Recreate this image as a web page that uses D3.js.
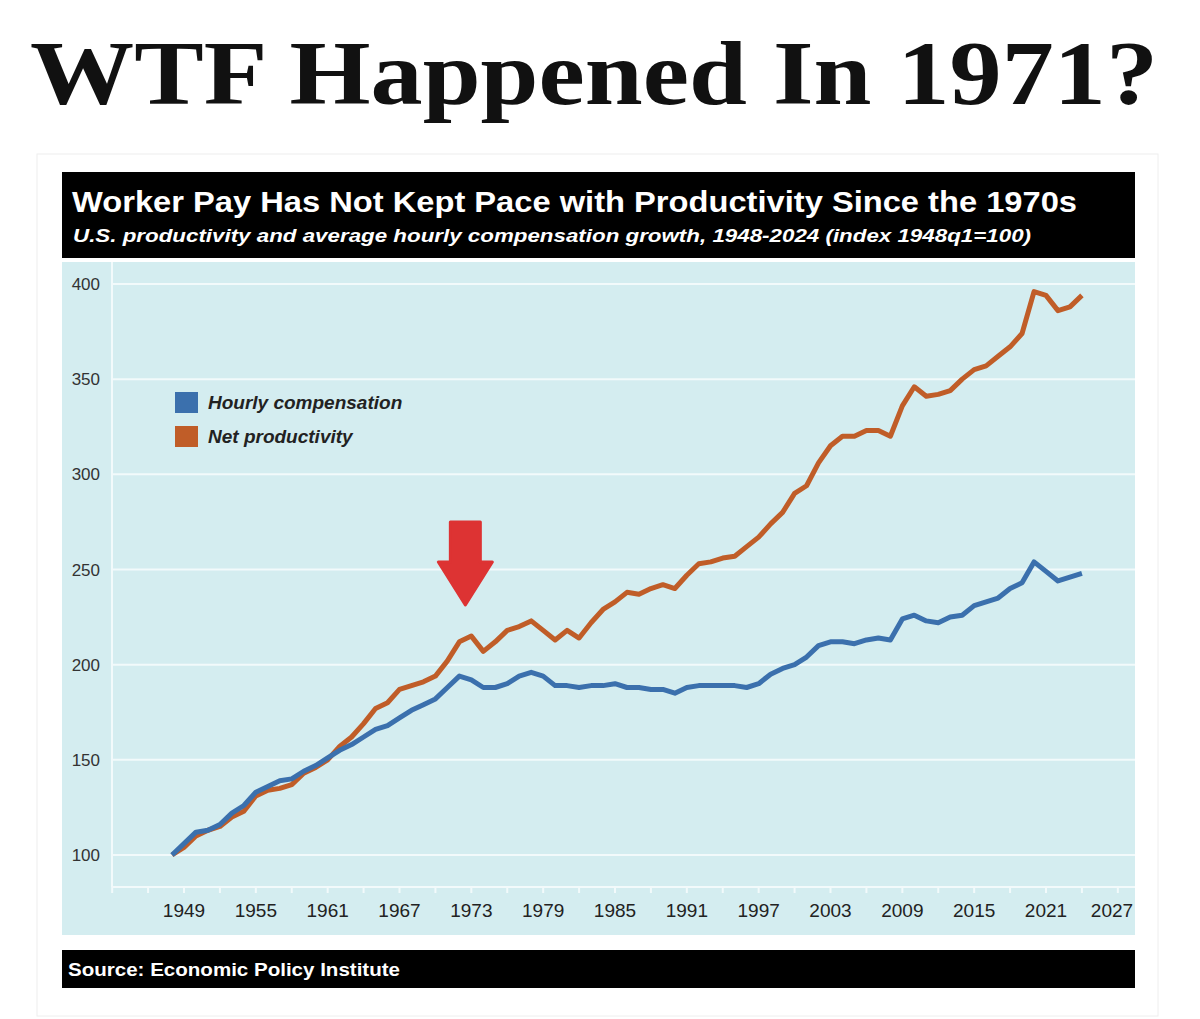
<!DOCTYPE html>
<html><head><meta charset="utf-8">
<script src="https://cdn.jsdelivr.net/npm/d3@7"></script>
<style>body{margin:0;background:#fff}</style>
</head><body>
<svg id="viz" width="1200" height="1019"></svg>
<script>
const years = [1948,1949,1950,1951,1952,1953,1954,1955,1956,1957,1958,1959,1960,1961,1962,1963,1964,1965,1966,1967,1968,1969,1970,1971,1972,1973,1974,1975,1976,1977,1978,1979,1980,1981,1982,1983,1984,1985,1986,1987,1988,1989,1990,1991,1992,1993,1994,1995,1996,1997,1998,1999,2000,2001,2002,2003,2004,2005,2006,2007,2008,2009,2010,2011,2012,2013,2014,2015,2016,2017,2018,2019,2020,2021,2022,2023,2024];
const productivity = [100,104,110,113,115,120,123,131,134,135,137,143,146,150,157,162,169,177,180,187,189,191,194,202,212,215,207,212,218,220,223,218,213,218,214,222,229,233,238,237,240,242,240,247,253,254,256,257,262,267,274,280,290,294,306,315,320,320,323,323,320,336,346,341,342,344,350,355,357,362,367,374,396,394,386,388,394];
const compensation = [100,106,112,113,116,122,126,133,136,139,140,144,147,151,155,158,162,166,168,172,176,179,182,188,194,192,188,188,190,194,196,194,189,189,188,189,189,190,188,188,187,187,185,188,189,189,189,189,188,190,195,198,200,204,210,212,212,211,213,214,213,224,226,223,222,225,226,231,233,235,240,243,254,249,244,246,248];
const yTicks = [100,150,200,250,300,350,400];
const xLabels = [1949,1955,1961,1967,1973,1979,1985,1991,1997,2003,2009,2015,2021,2027];
const series = [
  {name: "Hourly compensation", values: compensation, color: "#3b70ad"},
  {name: "Net productivity", values: productivity, color: "#c05d28"}
];

(function() {
const svg = d3.select("#viz");
const left = 112, right = 1135, plotTop = 262, axisY = 887;

// faint frame
svg.append("rect").attr("x", 37).attr("y", 154).attr("width", 1121).attr("height", 862)
  .attr("fill", "#fff").attr("stroke", "#eee");

svg.append("text").attr("x", 594).attr("y", 104).attr("text-anchor", "middle")
  .attr("font-family", "Liberation Serif").attr("font-weight", "bold").attr("font-size", 90)
  .attr("textLength", 1128).attr("lengthAdjust", "spacingAndGlyphs")
  .attr("fill", "#111").text("WTF Happened In 1971?");

// header
svg.append("rect").attr("x", 62).attr("y", 172).attr("width", 1073).attr("height", 86).attr("fill", "#000");
svg.append("text").attr("x", 72).attr("y", 212).attr("fill", "#fff")
  .attr("font-family", "Liberation Sans").attr("font-weight", "bold").attr("font-size", 30)
  .attr("textLength", 1005).attr("lengthAdjust", "spacingAndGlyphs")
  .text("Worker Pay Has Not Kept Pace with Productivity Since the 1970s");
svg.append("text").attr("x", 73).attr("y", 242).attr("fill", "#fff")
  .attr("font-family", "Liberation Sans").attr("font-weight", "bold").attr("font-style", "italic").attr("font-size", 19)
  .attr("textLength", 958).attr("lengthAdjust", "spacingAndGlyphs")
  .text("U.S. productivity and average hourly compensation growth, 1948-2024 (index 1948q1=100)");

// plot panel
svg.append("rect").attr("x", 62).attr("y", plotTop).attr("width", right - 62).attr("height", 673).attr("fill", "#d4edf0");

const x = d3.scaleLinear().domain([1949, 2021]).range([184, 1046]);
const y = d3.scaleLinear().domain([100, 400]).range([855, 284]);

svg.append("g").selectAll("line").data(yTicks).join("line")
  .attr("x1", left).attr("x2", right).attr("y1", d => y(d)).attr("y2", d => y(d))
  .attr("stroke", "#f2fafb").attr("stroke-width", 2);
svg.append("g").selectAll("text").data(yTicks).join("text")
  .attr("x", 100).attr("y", d => y(d) + 6).attr("text-anchor", "end")
  .attr("font-family", "Liberation Sans").attr("font-size", 17).attr("fill", "#333").text(d => d);

svg.append("line").attr("x1", left).attr("x2", left).attr("y1", plotTop).attr("y2", axisY)
  .attr("stroke", "#f2fafb").attr("stroke-width", 2);
svg.append("line").attr("x1", left).attr("x2", right).attr("y1", axisY).attr("y2", axisY)
  .attr("stroke", "#f2fafb").attr("stroke-width", 2);
const tickYears = d3.range(1943, 2030, 3);
svg.append("g").selectAll("line").data(tickYears).join("line")
  .attr("x1", d => x(d)).attr("x2", d => x(d)).attr("y1", axisY).attr("y2", axisY + 6)
  .attr("stroke", "#f2fafb").attr("stroke-width", 2);
svg.append("g").selectAll("text").data(xLabels).join("text")
  .attr("x", d => d === 2027 ? 1112 : x(d)).attr("y", 917).attr("text-anchor", "middle")
  .attr("font-family", "Liberation Sans Narrow, Liberation Sans").attr("font-size", 19).attr("fill", "#222")
  .text(d => d);

const line = d3.line().x((d, i) => x(years[i])).y(d => y(d));
series.slice().reverse().forEach(s => {
  svg.append("path").datum(s.values).attr("d", line).attr("fill", "none")
    .attr("stroke", s.color).attr("stroke-width", 5).attr("stroke-linejoin", "round");
});

// legend
series.forEach((s, i) => {
  svg.append("rect").attr("x", 175).attr("y", 392 + i * 34).attr("width", 23).attr("height", 21).attr("fill", s.color);
  svg.append("text").attr("x", 208).attr("y", 409 + i * 34)
    .attr("font-family", "Liberation Sans").attr("font-style", "italic").attr("font-weight", "bold")
    .attr("font-size", 19).attr("fill", "#222")
    .text(s.name);
});

// arrow at 1971
const ax = x(1972.5);
svg.append("path")
  .attr("d", `M${ax-15},522 L${ax+15},522 L${ax+15},562 L${ax+27},562 L${ax},605 L${ax-27},562 L${ax-15},562 Z`)
  .attr("fill", "#dd3333").attr("stroke", "#dd3333").attr("stroke-width", 3).attr("stroke-linejoin", "round");

// source bar
svg.append("rect").attr("x", 62).attr("y", 950).attr("width", 1073).attr("height", 38).attr("fill", "#000");
svg.append("text").attr("x", 68).attr("y", 976).attr("fill", "#fff")
  .attr("font-family", "Liberation Sans").attr("font-weight", "bold").attr("font-size", 19)
  .attr("textLength", 332).attr("lengthAdjust", "spacingAndGlyphs")
  .text("Source: Economic Policy Institute");
})();
</script>
</body></html>
